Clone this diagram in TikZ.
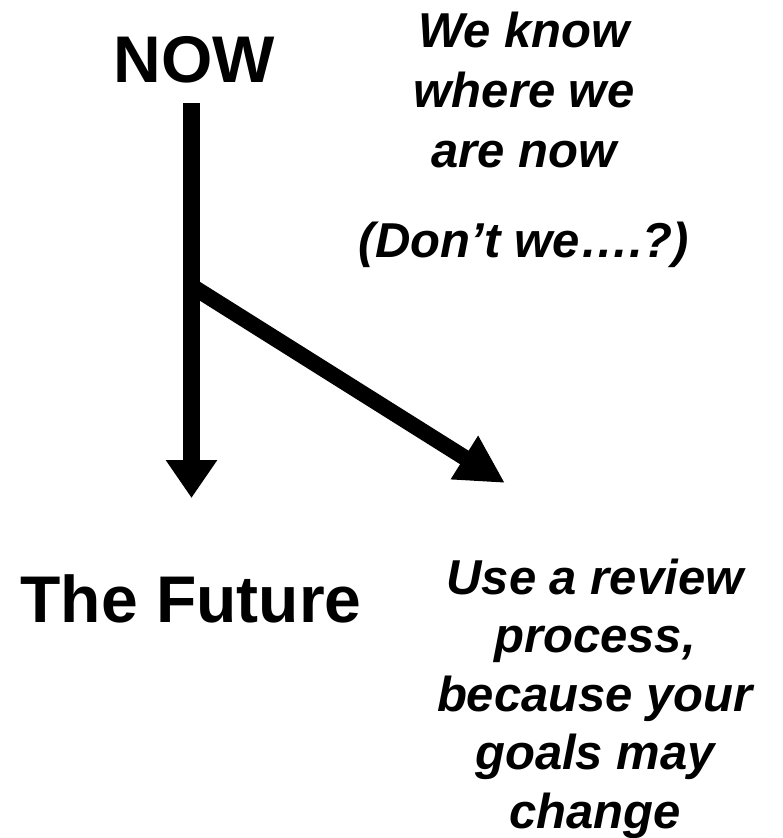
\documentclass[tikz,border=0pt]{standalone}
\usepackage{fontspec}
\setmainfont{Liberation Sans}
\usetikzlibrary{arrows.meta}
\begin{document}
\begin{tikzpicture}[x=1pt,y=-1pt,
  heading/.style={inner sep=0pt,anchor=base,font=\fontsize{66}{79}\selectfont\bfseries},
  remark/.style={inner sep=0pt,align=center,anchor=base,font=\fontsize{49}{60}\selectfont\bfseries\itshape},
  shaft/.style={line width=17pt,line cap=butt}]
  \useasboundingbox[fill=white] (0,0) rectangle (782,838);

  % labels (multi-line nodes are placed by the baseline of their last line)
  \node[heading] (now) at (194.5,82) {NOW};
  \node[heading] (future) at (191,622) {The Future};
  \node[remark] (known) at (524,167) {We know\\where we\\are now};
  \node[remark] (doubt) at (524,257) {(Don’t we….?)};
  \node[remark,font=\fontsize{49}{58.5}\selectfont\bfseries\itshape] (review) at (595,828)
    {Use a review\\process,\\because your\\goals may\\change};

  % arrow ends
  \coordinate (start) at (191.5,103);
  \coordinate (fork) at (191.5,286);
  \coordinate (ahead) at (191.5,498);
  \coordinate (aside) at (505,483);

  % the two paths
  \draw[shaft,-{Triangle[length=38pt,width=49pt]}] (start) -- (ahead);
  \draw[line width=16pt,-{Triangle[length=48pt,width=48pt]}] (fork) -- (aside);
\end{tikzpicture}
\end{document}
